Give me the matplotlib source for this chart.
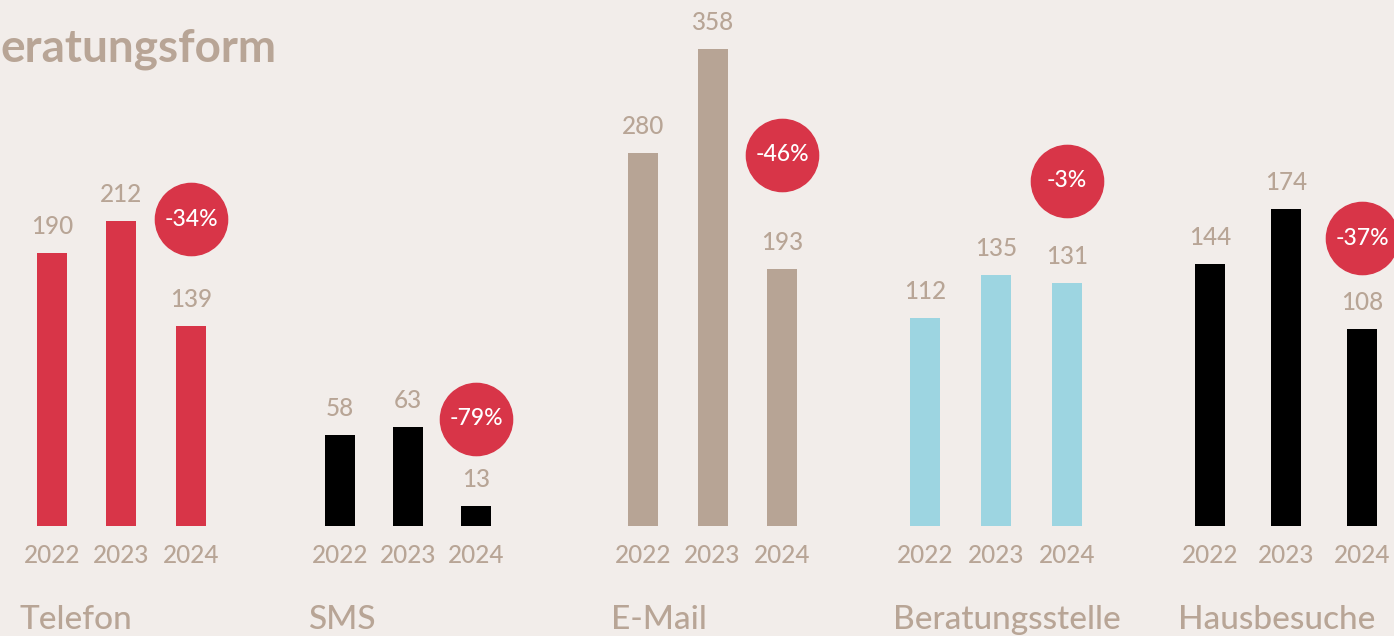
import matplotlib.pyplot as plt
from matplotlib.transforms import offset_copy

plt.rcParams['font.family'] = ['Lato', 'DejaVu Sans']

# data
categories = ["Telefon", "SMS", "E-Mail", "Beratungsstelle", "Hausbesuche"]
years = ["2022", "2023", "2024"]
telefon = [190, 212, 139]
sms = [58, 63, 13]
email = [280, 358, 193]
beratungsstelle = [112, 135, 131]
hausbesuche = [144, 174, 108]
changes = ["-34%", "-79%", "-46%", "-3%", "-37%"]
series = [telefon, sms, email, beratungsstelle, hausbesuche]

# colours
bg = "#f2edea"
txt = "#b8a596"
red = "#d83548"
beige = "#b7a495"
blue = "#9dd5e1"
bar_colors = [red, "#000000", beige, blue, "#000000"]

# layout (pixels)
W, H = 1394, 636
base = 526
first_center = [52, 340, 643, 925, 1210]
spacing = [69.5, 68, 69.5, 71, 76]
ymax = [366, 334, 395, 283, 289]   # each panel has its own scale
circle_off = [107, 87, 114, 102, 91]
bar_w = 30

fig = plt.figure(figsize=(W / 100, H / 100), dpi=100)
fig.patch.set_facecolor(bg)

fig.text(0.0, 1 - 62 / H, "eratungsform", fontsize=33, fontweight='bold',
         color=txt, ha='left', va='baseline')

for i, vals in enumerate(series):
    sp = spacing[i]
    left = (first_center[i] - sp / 2) / W
    ax = fig.add_axes([left, (H - base) / H, 3 * sp / W, base / H])
    ax.axis('off')
    ax.set_xlim(-0.5, 2.5)
    ax.set_ylim(0, ymax[i])
    ax.bar(range(3), vals, width=bar_w / sp, color=bar_colors[i])

    for j, v in enumerate(vals):
        ax.annotate(str(v), (j, v), xytext=(0, 19), textcoords='offset pixels',
                    ha='center', va='baseline', fontsize=17.5, color=txt,
                    fontweight='medium')
        ax.annotate(years[j], (j, 0), xytext=(0, -37), textcoords='offset pixels',
                    ha='center', va='baseline', fontsize=17.5, color=txt,
                    fontweight='medium', annotation_clip=False)

    ax.annotate(categories[i], (-bar_w / 2 / sp, 0), xytext=(-17, -103),
                textcoords='offset pixels', ha='left', va='baseline',
                fontsize=24, color=txt, fontweight='medium',
                annotation_clip=False)

    tr = offset_copy(ax.transData, fig=fig, x=0, y=circle_off[i], units='dots')
    ax.plot([2], [vals[2]], 'o', ms=52, color=red, mec=red, transform=tr, clip_on=False)
    ax.text(2, vals[2], changes[i], transform=tr, ha='center', va='center',
            color='white', fontsize=16.5, fontweight='medium', clip_on=False)

fig.savefig('out.png', dpi=100, facecolor=bg)
